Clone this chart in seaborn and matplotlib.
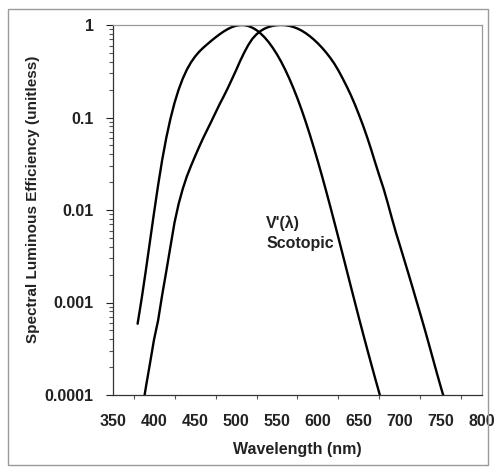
import numpy as np
import pandas as pd
import matplotlib
matplotlib.use("Agg")
import matplotlib.pyplot as plt
from matplotlib.patches import Rectangle
from matplotlib.ticker import FixedLocator, LogLocator, NullFormatter
import seaborn as sns

# CIE luminous efficiency functions, 5 nm steps
photopic_nm = list(range(380, 765, 5))
photopic_v = [
    0.000039, 0.000064, 0.000120, 0.000217, 0.000396, 0.000640, 0.001210, 0.002180,
    0.004000, 0.007300, 0.011600, 0.016840, 0.023000, 0.029800, 0.038000, 0.048000,
    0.060000, 0.073900, 0.090980, 0.112600, 0.139020, 0.169300, 0.208020, 0.258600,
    0.323000, 0.407300, 0.503000, 0.608200, 0.710000, 0.793200, 0.862000, 0.914850,
    0.954000, 0.980300, 0.994950, 1.000000, 0.995000, 0.978600, 0.952000, 0.915400,
    0.870000, 0.816300, 0.757000, 0.694900, 0.631000, 0.566800, 0.503000, 0.441200,
    0.381000, 0.321000, 0.265000, 0.217000, 0.175000, 0.138200, 0.107000, 0.081600,
    0.061000, 0.044580, 0.032000, 0.023200, 0.017000, 0.011920, 0.008210, 0.005723,
    0.004102, 0.002929, 0.002091, 0.001484, 0.001047, 0.000740, 0.000520, 0.000361,
    0.000249, 0.000172, 0.000120, 0.000085, 0.000060,
]

scotopic_nm = list(range(380, 690, 5))
scotopic_v = [
    0.000589, 0.001108, 0.002209, 0.004530, 0.009290, 0.018520, 0.034840, 0.060400,
    0.096600, 0.143600, 0.199800, 0.262500, 0.328100, 0.393100, 0.455000, 0.513000,
    0.567000, 0.620000, 0.676000, 0.734000, 0.793000, 0.851000, 0.904000, 0.949000,
    0.982000, 0.998000, 0.997000, 0.975000, 0.935000, 0.880000, 0.811000, 0.733000,
    0.650000, 0.564000, 0.481000, 0.402000, 0.328800, 0.263900, 0.207600, 0.160200,
    0.121200, 0.089900, 0.065500, 0.046900, 0.033150, 0.023120, 0.015930, 0.010880,
    0.007370, 0.004970, 0.003335, 0.002235, 0.001497, 0.001005, 0.000677, 0.000459,
    0.000313, 0.000215, 0.000148, 0.000103, 0.000072, 0.000050,
]

x_ticks = [350, 400, 450, 500, 550, 600, 650, 700, 750, 800]
y_ticks = [0.0001, 0.001, 0.01, 0.1, 1]
y_tick_labels = ["0.0001", "0.001", "0.01", "0.1", "1"]

df = pd.concat([
    pd.DataFrame({"nm": photopic_nm, "v": photopic_v, "curve": "Photopic"}),
    pd.DataFrame({"nm": scotopic_nm, "v": scotopic_v, "curve": "Scotopic"}),
])

sns.set_theme(style="white")
plt.rcParams["font.family"] = ["Liberation Sans", "DejaVu Sans"]
plt.rcParams["font.weight"] = "bold"

TXT = "#222222"

fig = plt.figure(figsize=(4.96, 4.74), dpi=100)
ax = fig.add_axes([113 / 496, 79 / 474, 369 / 496, 370 / 474])

sns.lineplot(data=df, x="nm", y="v", units="curve", estimator=None,
             color="black", linewidth=1.7, ax=ax, legend=False, sort=False)

ax.set_yscale("log")
ax.set_xlim(350, 800)
ax.set_ylim(0.0001, 1)

ax.xaxis.set_major_locator(FixedLocator(x_ticks))
ax.xaxis.set_minor_locator(FixedLocator(list(range(350, 801, 25))))
ax.set_yticks(y_ticks)
ax.set_yticklabels(y_tick_labels)
ax.yaxis.set_minor_locator(LogLocator(base=10, subs=np.arange(2, 10)))
ax.yaxis.set_minor_formatter(NullFormatter())

ax.tick_params(axis="x", which="major", direction="out", length=0, pad=14,
               labelsize=11.5, colors=TXT)
ax.tick_params(axis="x", which="minor", direction="out", length=3, width=0.8,
               color="#555555", bottom=True)
ax.tick_params(axis="y", which="major", direction="out", length=5, width=0.8,
               pad=9, labelsize=11.5, colors=TXT, left=True)
ax.tick_params(axis="y", which="minor", direction="out", length=3, width=0.8,
               color="#555555", left=True)
for lbl in ax.get_xticklabels() + ax.get_yticklabels():
    lbl.set_fontweight("bold")

for side in ["left", "bottom"]:
    ax.spines[side].set_color("#333333")
    ax.spines[side].set_linewidth(0.9)
for side in ["top", "right"]:
    ax.spines[side].set_color("#999999")
    ax.spines[side].set_linewidth(0.9)

ax.set_xlabel("Wavelength (nm)", fontsize=11.5, fontweight="bold",
              color=TXT, labelpad=9)
ax.set_ylabel("")
fig.text(33 / 496, 1 - 199 / 474, "Spectral Luminous Efficiency (unitless)",
         rotation=90, ha="center", va="center", fontsize=11,
         fontweight="bold", color=TXT)

ax.text(537, 0.0072, "V'(λ)", fontsize=11.5, fontweight="bold",
        color=TXT, ha="left", va="center")
ax.text(537, 0.0043, "Scotopic", fontsize=11.5, fontweight="bold",
        color=TXT, ha="left", va="center")

# chart area frame
fig.patches.append(Rectangle((8 / 496, 9 / 474), 480 / 496, 456 / 474,
                             transform=fig.transFigure, fill=False,
                             edgecolor="#9a9a9a", linewidth=1.0))

fig.savefig("out.png", dpi=100, facecolor="white")
